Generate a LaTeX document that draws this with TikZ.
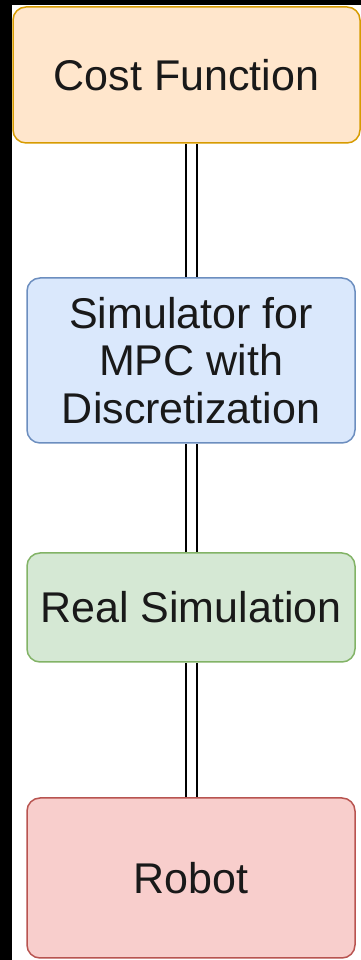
\documentclass[tikz,border=0pt]{standalone}
\usepackage{fontspec}
\setmainfont{Liberation Sans}
\usepackage{xcolor}
\usepackage{tikz}

\definecolor{costfill}{HTML}{FFE6CC}
\definecolor{costline}{HTML}{D79B00}
\definecolor{simfill}{HTML}{DAE8FC}
\definecolor{simline}{HTML}{6C8EBF}
\definecolor{realfill}{HTML}{D5E8D4}
\definecolor{realline}{HTML}{82B366}
\definecolor{robotfill}{HTML}{F8CECC}
\definecolor{robotline}{HTML}{B85450}

\begin{document}
\begin{tikzpicture}[>=latex, x=1pt, y=1pt,
    every node/.style={font=\fontsize{43}{47.5}\selectfont, text=black!90},
    box/.style={rectangle, rounded corners=13pt, line width=1.5pt, inner sep=0pt, minimum width=328pt},
    link/.style={draw=black, double=white, double distance=9pt, line width=2pt}]
  % page and black edges
  \useasboundingbox (0,0) rectangle (361,960);
  \fill[black] (0,0) rectangle (361,960);
  \fill[white] (12,0) rectangle (361,955);

  \node [box, fill=costfill, draw=costline, minimum width=347pt, minimum height=136pt] (cost) at (186.5,885) {Cost Function};
  \node [box, fill=simfill, draw=simline, minimum height=165pt, align=center, below of=cost, node distance=285.5pt, xshift=4.5pt] (sim) {Simulator for\\MPC with\\Discretization};
  \node [box, fill=realfill, draw=realline, minimum height=109pt, below of=sim, node distance=247pt] (real) {Real Simulation};
  \node [box, fill=robotfill, draw=robotline, minimum height=160pt, below of=real, node distance=270.5pt] (robot) {Robot};

  \draw [link] (sim.north) -- (sim.north |- cost.south);
  \draw [link] (real.north) -- (sim.south);
  \draw [link] (robot.north) -- (real.south);
\end{tikzpicture}
\end{document}
